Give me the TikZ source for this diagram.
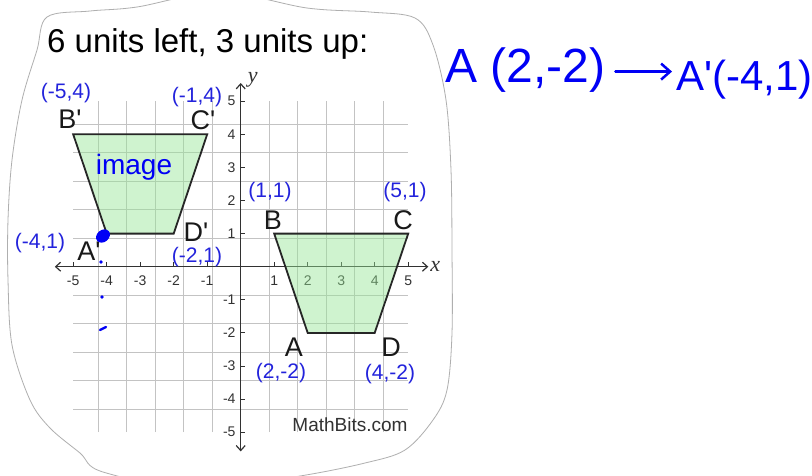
\documentclass[tikz,border=0pt]{standalone}
\usepackage{fontspec}
\setmainfont{Liberation Sans}[Ligatures=TeXOff]
\newfontfamily\lserif{Liberation Serif}
\usetikzlibrary{arrows.meta}

\definecolor{lblblue}{RGB}{35,35,220}
\definecolor{penblue}{RGB}{0,0,245}
\definecolor{gridgray}{RGB}{195,195,195}
\definecolor{trapfill}{RGB}{150,230,150}
\definecolor{axisgray}{RGB}{50,50,50}
\definecolor{outlinegray}{RGB}{175,175,175}

\newcommand\fsz[1]{\fontsize{#1}{#1}\selectfont}

\begin{document}
\begin{tikzpicture}[x=1pt,y=-1pt,
  every node/.style={inner sep=0pt},
  coordlbl/.style={text=lblblue,font=\fsz{21}},
  vertexlbl/.style={text=black!90,font=\fsz{27}},
  ticklbl/.style={text=axisgray,font=\fsz{14}},
  axislbl/.style={text=axisgray,font=\fsz{22}\lserif\itshape},
  penstyle/.style={text=penblue},
  trap/.style={draw=black!85,line width=1.8pt,fill=trapfill,fill opacity=0.45,line join=miter},
  axisline/.style={draw=axisgray,line width=1.2pt,-{Straight Barb[length=5pt,width=9pt]}},
  tickmark/.style={draw=axisgray,line width=1pt},
]
\useasboundingbox (0,0) rectangle (812,475);
\fill[white] (0,0) rectangle (812,475);

% hand-cut outline
\draw[outlinegray,line width=0.8pt] plot[smooth cycle,tension=0.55] coordinates {
 (47,17) (90,11) (137,7) (220,-8) (307,8) (370,12) (415,18) (433,45) (446,100)
 (451,170) (452,250) (452,333) (447,390) (433,420) (405,450) (365,463) (300,476)
 (200,490) (103,472) (80,453) (50,428) (30,400) (12,345) (8,280) (8,220) (12,160)
 (22,100) (37,50)};

% title
\node[anchor=base west,font=\fsz{33}] (title) at (47,52) {6 units left, 3 units up:};

% graph
\begin{scope}[shift={(240.7,266.7)},x=33.5pt,y=33.1pt]
  \draw[gridgray,line width=0.8pt] (-5,-5) grid (5,5);
  \coordinate (O) at (0,0);
  \coordinate (xend) at (5.6,0);
  \coordinate (xbeg) at (-5.55,0);
  \coordinate (yend) at (0,5.55);
  \coordinate (ybeg) at (0,-5.58);
  \draw[axisline] (O) -- (xend);
  \draw[axisline] (O) -- (xbeg);
  \draw[axisline] (O) -- (yend);
  \draw[axisline] (O) -- (ybeg);
  \foreach \i in {-5,-4,-3,-2,-1,1,2,3,4,5} {
    \draw[tickmark] (\i,0) -- ++(0pt,4.5pt);
    \draw[tickmark] (0,\i) -- ++(4.5pt,0pt);
    \node[ticklbl] (tx\i) at ([yshift=-14pt]\i,0) {\i};
    \node[ticklbl,anchor=east] (ty\i) at ([xshift=-5pt]0,\i) {\i};
  }
  \node[axislbl] (xlab) at ([xshift=7pt]xend) {x};
  \node[axislbl] (ylab) at ([xshift=12pt,yshift=3pt]yend) {y};

  % pre-image ABCD
  \coordinate (A) at (2,-2);
  \coordinate (B) at (1,1);
  \coordinate (C) at (5,1);
  \coordinate (D) at (4,-2);
  % image A'B'C'D'
  \coordinate (Ai) at (-4,1);
  \coordinate (Bi) at (-5,4);
  \coordinate (Ci) at (-1,4);
  \coordinate (Di) at (-2,1);
  \draw[trap] (A) -- (B) -- (C) -- (D) -- cycle;
  \draw[trap] (Ai) -- (Bi) -- (Ci) -- (Di) -- cycle;
\end{scope}

\node[text=axisgray,font=\fsz{19}] (mb) at (350,425) {MathBits.com};

% vertex labels
\node[vertexlbl] (lBi) at (70,119) {B'};
\node[vertexlbl] (lCi) at (203,120) {C'};
\node[vertexlbl] (lDi) at (196,232) {D'};
\node[vertexlbl] (lAi) at (89,251) {A'};
\node[vertexlbl] (lB) at (273,220) {B};
\node[vertexlbl] (lC) at (403,220) {C};
\node[vertexlbl] (lA) at (294,347) {A};
\node[vertexlbl] (lD) at (391,347) {D};

% coordinate labels
\node[coordlbl] (cBi) at (66,93) {(-5,4)};
\node[coordlbl] (cCi) at (197,97) {(-1,4)};
\node[coordlbl] (cAi) at (40,243) {(-4,1)};
\node[coordlbl] (cDi) at (197,257) {(-2,1)};
\node[coordlbl] (cB) at (270,192) {(1,1)};
\node[coordlbl] (cC) at (405,192) {(5,1)};
\node[coordlbl] (cA) at (281,373) {(2,-2)};
\node[coordlbl] (cD) at (390,374) {(4,-2)};

% handwriting
\node[penstyle,font=\fsz{28}] (img) at (134,167) {image};
\fill[penblue,rotate around={40:(103,236)}] (103,236) ellipse (7.5pt and 6pt);
\fill[penblue] (101,262) circle (1.8pt);
\fill[penblue] (102,297) circle (1.8pt);
\draw[penblue,line width=2.4pt,line cap=round] (100,330) -- (106,327);

\node[penstyle,anchor=base west,font=\fsz{48}] (hwA) at (445,82) {A (2,-2)};
\node[penstyle,anchor=base west,font=\fsz{42}] (hwB) at (676,90) {A'(-4,1)};
\draw[penblue,line width=2.5pt,line cap=round,-{Straight Barb[length=9pt,width=16pt]}]
  ([xshift=10pt,yshift=-2pt]hwA.east) -- ([xshift=-4pt,yshift=-2pt]hwA.east -| hwB.west);
\end{tikzpicture}
\end{document}
